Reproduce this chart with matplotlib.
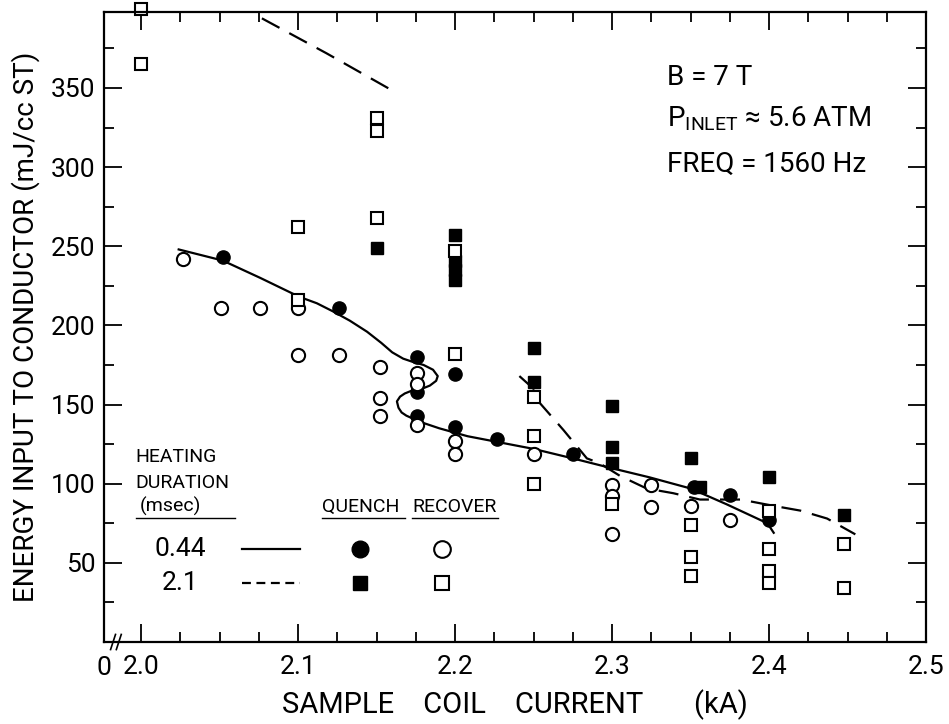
import numpy as np
import matplotlib.pyplot as plt
from matplotlib.ticker import MultipleLocator, FixedLocator

plt.rcParams['font.family'] = ['Roboto', 'DejaVu Sans']
plt.rcParams['mathtext.fontset'] = 'custom'
plt.rcParams['mathtext.rm'] = 'Roboto'

# quench, 0.44 msec heating (filled circles)
q_044_x = [2.052, 2.126, 2.176, 2.176, 2.176, 2.2, 2.2, 2.227, 2.275, 2.352, 2.375, 2.4]
q_044_y = [243, 211, 180, 158, 143, 169, 136, 128, 119, 98, 93, 77]

# recover, 0.44 msec heating (open circles)
r_044_x = [2.027, 2.051, 2.076, 2.1, 2.1, 2.126, 2.152, 2.152, 2.152, 2.176, 2.176,
           2.176, 2.2, 2.2, 2.25, 2.3, 2.3, 2.3, 2.325, 2.325, 2.35, 2.375]
r_044_y = [242, 211, 211, 211, 181, 181, 174, 154, 143, 170, 163,
           137, 127, 119, 119, 99, 92, 68, 99, 85, 86, 77]

# quench, 2.1 msec heating (filled squares)
q_21_x = [2.15, 2.2, 2.2, 2.2, 2.2, 2.25, 2.25, 2.3, 2.3, 2.3, 2.35, 2.356, 2.4, 2.448]
q_21_y = [249, 257, 241, 235, 229, 186, 164, 149, 123, 113, 116, 98, 104, 80]

# recover, 2.1 msec heating (open squares)
r_21_x = [2.0, 2.0, 2.1, 2.1, 2.15, 2.15, 2.15, 2.2, 2.2, 2.25, 2.25, 2.25, 2.3,
          2.35, 2.35, 2.35, 2.4, 2.4, 2.4, 2.4, 2.448, 2.448]
r_21_y = [400, 365, 262, 216, 331, 323, 268, 247, 182, 155, 130, 100, 87,
          74, 54, 42, 83, 59, 45, 37, 62, 34]

# hand-drawn trend curves
solid_x = [2.024, 2.052, 2.076, 2.101, 2.112, 2.122, 2.133, 2.144, 2.153, 2.160, 2.167,
           2.173, 2.180, 2.186, 2.189, 2.188, 2.184, 2.179, 2.173, 2.168, 2.165, 2.163,
           2.164, 2.166, 2.169, 2.178, 2.190, 2.208, 2.229, 2.250, 2.275, 2.299,
           2.324, 2.350, 2.373, 2.399, 2.403]
solid_y = [248, 241, 230, 218, 214, 209, 203, 196, 189, 183, 179,
           177, 175, 172, 168, 165, 162, 160, 159, 157, 155, 152,
           148, 145, 143, 139, 135, 130, 126, 122, 116, 110,
           104, 97, 87, 75, 69]

dash_top_x = [2.077, 2.118, 2.159]
dash_top_y = [394, 372, 349]

dash_low_x = [2.241, 2.250, 2.254, 2.269, 2.284, 2.292, 2.305, 2.322, 2.339, 2.356,
              2.369, 2.382, 2.403, 2.420, 2.437, 2.455]
dash_low_y = [168, 160, 151, 134, 116, 113, 105, 97, 94, 90,
              90, 90, 86, 83, 78, 68]

xticks = [2.0, 2.1, 2.2, 2.3, 2.4, 2.5]
xticklabels = ['2.0', '2.1', '2.2', '2.3', '2.4', '2.5']
yticks = [50, 100, 150, 200, 250, 300, 350]

fig = plt.figure(figsize=(9.49, 7.24), dpi=100)
ax = fig.add_axes([104 / 949, 82 / 724, 822 / 949, 630 / 724])

ax.plot(solid_x, solid_y, color='black', lw=1.6)
ax.plot(dash_top_x, dash_top_y, color='black', lw=1.6, dashes=(9, 5))
ax.plot(dash_low_x, dash_low_y, color='black', lw=1.6, dashes=(9, 5))

ms = 9.5
ax.plot(q_044_x, q_044_y, 'o', ms=ms, mfc='black', mec='black', ls='none')
ax.plot(r_044_x, r_044_y, 'o', ms=ms, mfc='white', mec='black', mew=1.5, ls='none')
ax.plot(q_21_x, q_21_y, 's', ms=ms - 0.5, mfc='black', mec='black', ls='none')
ax.plot(r_21_x, r_21_y, 's', ms=ms - 0.5, mfc='white', mec='black', mew=1.5, ls='none',
        clip_on=False)

ax.set_xlim(2.0 - 37 / 1570, 2.5)
ax.set_ylim(0, 398)

ax.xaxis.set_major_locator(FixedLocator(xticks))
ax.set_xticklabels(xticklabels)
ax.xaxis.set_minor_locator(MultipleLocator(0.025))
ax.yaxis.set_major_locator(FixedLocator(yticks))
ax.yaxis.set_minor_locator(MultipleLocator(25))

ax.tick_params(which='both', direction='in', top=True, right=True, width=1.3,
               labelsize=19)
ax.tick_params(which='major', length=13)
ax.tick_params(which='minor', length=7)
ax.tick_params(axis='x', pad=9)
ax.tick_params(axis='y', pad=6)
for s in ax.spines.values():
    s.set_linewidth(1.6)

ax.set_xlabel('SAMPLE    COIL    CURRENT       (kA)', fontsize=21, labelpad=8)
ax.set_ylabel('ENERGY INPUT TO CONDUCTOR (mJ/cc ST)', fontsize=20, labelpad=8)

# "0" at the origin and axis break marks
ax.text(0, -0.022, '0', transform=ax.transAxes, ha='center', va='top', fontsize=19)
for bx in [0.011, 0.018]:
    ax.plot([bx - 0.003, bx + 0.003], [-0.012, 0.012], color='black', lw=1.2,
            transform=ax.transAxes, clip_on=False)

# conditions
ax.text(0.685, 0.884, 'B = 7 T', transform=ax.transAxes, fontsize=20)
ax.text(0.685, 0.818, r'P$_{\rm INLET}$ ≈ 5.6 ATM', transform=ax.transAxes, fontsize=20)
ax.text(0.685, 0.746, 'FREQ = 1560 Hz', transform=ax.transAxes, fontsize=20)

# hand-made key
tr = ax.transAxes
fs = 14
ax.text(0.038, 0.286, 'HEATING', transform=tr, fontsize=fs)
ax.text(0.038, 0.244, 'DURATION', transform=tr, fontsize=fs)
ax.text(0.044, 0.206, '(msec)', transform=tr, fontsize=fs)
ax.text(0.265, 0.206, 'QUENCH', transform=tr, fontsize=fs)
ax.text(0.375, 0.206, 'RECOVER', transform=tr, fontsize=fs)
for x0, x1 in [(0.039, 0.159), (0.265, 0.366), (0.375, 0.479)]:
    ax.plot([x0, x1], [0.197, 0.197], color='black', lw=1.0, transform=tr)

ax.text(0.0925, 0.147, '0.44', transform=tr, fontsize=19, ha='center', va='center')
ax.text(0.0925, 0.094, '2.1', transform=tr, fontsize=19, ha='center', va='center')
ax.plot([0.168, 0.238], [0.147, 0.147], color='black', lw=1.6, transform=tr)
ax.plot([0.168, 0.238], [0.094, 0.094], color='black', lw=1.6, dashes=(4, 2.5), transform=tr)
ax.plot([0.311], [0.147], 'o', ms=12, mfc='black', mec='black', transform=tr)
ax.plot([0.411], [0.147], 'o', ms=12, mfc='white', mec='black', mew=1.5, transform=tr)
ax.plot([0.311], [0.094], 's', ms=10.5, mfc='black', mec='black', transform=tr)
ax.plot([0.411], [0.094], 's', ms=10.5, mfc='white', mec='black', mew=1.5, transform=tr)

fig.savefig('out.png', dpi=100)
